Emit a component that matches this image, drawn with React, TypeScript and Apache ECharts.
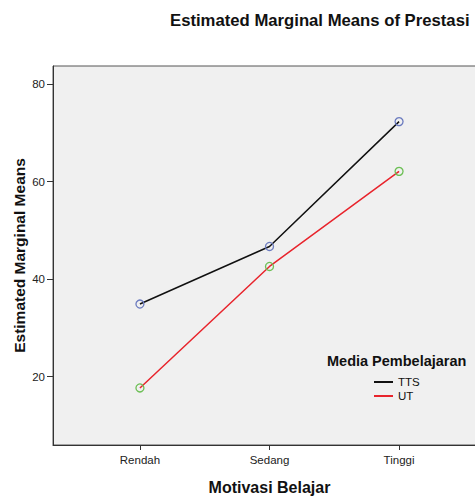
import React, { useEffect, useRef } from "react";
import * as echarts from "echarts";

const categories = ["Rendah", "Sedang", "Tinggi"];
const ttsValues = [34.9, 46.7, 72.3];
const utValues = [17.7, 42.6, 62.1];
const yTicks = [20, 40, 60, 80];
const seriesNames = ["TTS", "UT"];

const FONT = "Liberation Sans, Arial, sans-serif";

export default function App() {
  const ref = useRef<HTMLDivElement>(null);
  useEffect(() => {
    if (!ref.current) return;
    const chart = echarts.init(ref.current, null, { renderer: "svg" });
    const xPos = categories.map((_, i) => i + 1);
    const toData = (vals: number[]) => vals.map((v, i) => [xPos[i], v]);
    chart.setOption({
      animation: false,
      backgroundColor: "#ffffff",
      title: {
        text: "Estimated Marginal Means of Prestasi",
        left: 170,
        top: 12,
        padding: 0,
        textStyle: { fontFamily: FONT, fontSize: 16.7, fontWeight: "bold", color: "#111" },
      },
      legend: {
        orient: "vertical",
        left: 374,
        top: 376,
        padding: 0,
        itemGap: 2,
        itemWidth: 19,
        itemHeight: 2,
        textStyle: { fontFamily: FONT, fontSize: 11.5, color: "#111" },
        data: [
          { name: seriesNames[0], icon: "rect", itemStyle: { color: "#111111", borderWidth: 0 } },
          { name: seriesNames[1], icon: "rect", itemStyle: { color: "#e8242c", borderWidth: 0 } },
        ],
      },
      graphic: [
        {
          type: "text",
          left: 327,
          top: 353,
          style: {
            text: "Media Pembelajaran",
            fontFamily: FONT,
            fontSize: 14.5,
            fontWeight: "bold",
            fill: "#111",
          },
        },
      ],
      grid: {
        left: 53,
        top: 66,
        width: 433,
        height: 379,
        outerBoundsMode: "none",
        containLabel: false,
        show: true,
        backgroundColor: "#f0f0f0",
        borderColor: "#555",
        borderWidth: 1,
      },
      xAxis: {
        type: "value",
        min: 0.329,
        max: 3.671,
        name: "Motivasi Belajar",
        nameLocation: "middle",
        nameGap: 34,
        nameMoveOverlap: false,
        nameTextStyle: { fontFamily: FONT, fontSize: 16, fontWeight: "bold", color: "#111" },
        splitLine: { show: false },
        axisLine: { show: true, lineStyle: { color: "#333", width: 1 } },
        axisTick: { show: true, length: 5, customValues: xPos, lineStyle: { color: "#333" } },
        axisLabel: {
          customValues: xPos,
          margin: 9,
          fontFamily: FONT,
          fontSize: 11.5,
          color: "#222",
          formatter: (v: number) => categories[Math.round(v) - 1] ?? "",
        },
      },
      yAxis: {
        type: "value",
        min: 6,
        max: 83.7,
        name: "Estimated Marginal Means",
        nameLocation: "middle",
        nameGap: 26,
        nameMoveOverlap: false,
        nameTextStyle: { fontFamily: FONT, fontSize: 15.5, fontWeight: "bold", color: "#111" },
        splitLine: { show: false },
        axisLine: { show: true, lineStyle: { color: "#333", width: 1 } },
        axisTick: { show: true, length: 6, customValues: yTicks, lineStyle: { color: "#333" } },
        axisLabel: {
          customValues: yTicks,
          margin: 8,
          fontFamily: FONT,
          fontSize: 11.5,
          color: "#222",
        },
      },
      series: [
        {
          name: seriesNames[0],
          type: "line",
          data: toData(ttsValues),
          symbol: "circle",
          symbolSize: 8,
          showSymbol: true,
          lineStyle: { color: "#111111", width: 1.5 },
          itemStyle: { color: "rgba(0,0,0,0)", borderColor: "#6b7bbf", borderWidth: 1.3 },
          z: 3,
        },
        {
          name: seriesNames[1],
          type: "line",
          data: toData(utValues),
          symbol: "circle",
          symbolSize: 8,
          showSymbol: true,
          lineStyle: { color: "#e8242c", width: 1.5 },
          itemStyle: { color: "rgba(0,0,0,0)", borderColor: "#6cbf55", borderWidth: 1.3 },
          z: 4,
        },
      ],
    });
    return () => chart.dispose();
  }, []);
  return (
    <div
      ref={ref}
      style={{ position: "fixed", left: 0, top: 0, width: 475, height: 496 }}
    />
  );
}
